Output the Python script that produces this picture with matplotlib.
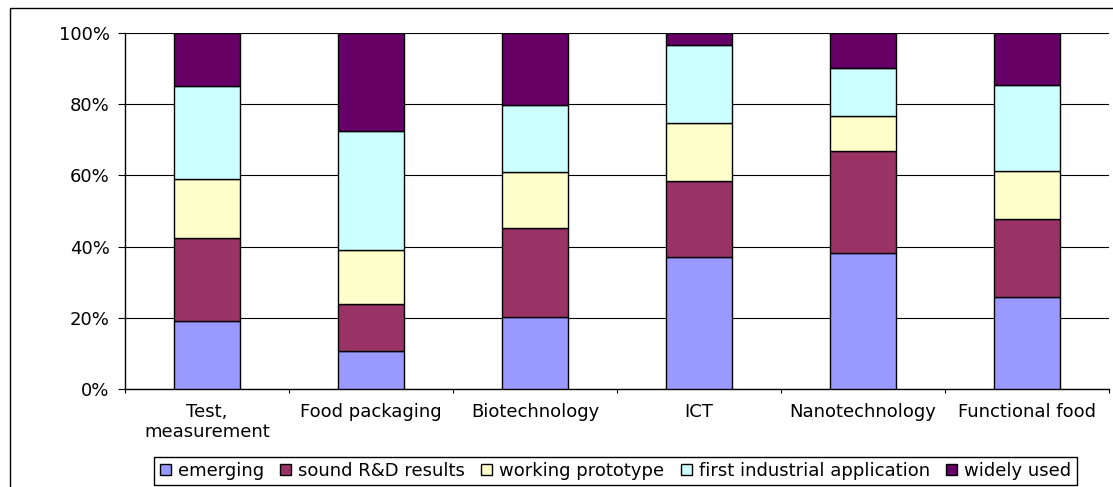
import matplotlib.pyplot as plt
from matplotlib.patches import Rectangle
import numpy as np

# shares (%) per stage
categories = ['Test,\nmeasurement', 'Food packaging', 'Biotechnology',
              'ICT', 'Nanotechnology', 'Functional food']
stages = ['emerging', 'sound R&D results', 'working prototype',
          'first industrial application', 'widely used']
emerging = [19.2, 10.8, 20.1, 37.0, 38.3, 25.8]
sound_rd = [23.3, 13.1, 25.0, 21.3, 28.6, 22.0]
prototype = [16.4, 15.1, 15.9, 16.4, 9.8, 13.4]
first_app = [26.2, 33.5, 18.9, 22.0, 13.4, 24.3]
widely_used = [14.9, 27.5, 20.1, 3.3, 9.9, 14.5]
yticks = [0, 20, 40, 60, 80, 100]

colors = ['#9999FF', '#993366', '#FFFFCC', '#CCFFFF', '#660066']

plt.rcParams['font.family'] = ['DejaVu Sans']
plt.rcParams['font.size'] = 13

fig = plt.figure(figsize=(11.13, 4.87), dpi=100)
ax = fig.add_axes([125 / 1113, 98 / 487, 984 / 1113, 356 / 487])

series = [emerging, sound_rd, prototype, first_app, widely_used]
x = np.arange(len(categories))
bottom = np.zeros(len(categories))
for vals, name, col in zip(series, stages, colors):
    ax.bar(x, vals, 0.4, bottom=bottom, color=col, edgecolor='black',
           linewidth=1, label=name, zorder=3)
    bottom += np.array(vals)

ax.set_xlim(-0.5, len(categories) - 0.5)
ax.set_ylim(0, 100)
ax.set_yticks(yticks)
ax.set_yticklabels([f'{v}%' for v in yticks])
ax.yaxis.grid(True, color='black', linewidth=0.8, zorder=0)
ax.set_axisbelow(True)

ax.set_xticks(x)
ax.set_xticklabels(categories, linespacing=1.15)
ax.set_xticks(np.arange(-0.5, len(categories)), minor=True)
ax.tick_params(axis='x', which='major', length=0, pad=10)
ax.tick_params(axis='x', which='minor', length=3, direction='out', width=0.8)
ax.tick_params(axis='y', length=5, direction='out', width=0.8, pad=6)

for s in ['top', 'right']:
    ax.spines[s].set_visible(False)
for s in ['left', 'bottom']:
    ax.spines[s].set_linewidth(1)

leg = fig.legend(loc='center', bbox_to_anchor=(615.5 / 1113, 16 / 487), ncol=5,
                 frameon=True, fancybox=False, edgecolor='black', framealpha=1,
                 fontsize=13, handlelength=0.6, handleheight=0.5,
                 handletextpad=0.4, columnspacing=0.9, borderpad=0.3,
                 borderaxespad=0)
leg.get_frame().set_linewidth(1)

# outer chart frame (clipped at right and bottom in the reference)
fig.patches.append(Rectangle((10 / 1113, -0.1), 1.2, 479 / 487 + 0.1,
                             transform=fig.transFigure, fill=False,
                             edgecolor='black', linewidth=1))

fig.savefig('out.png', dpi=100)
